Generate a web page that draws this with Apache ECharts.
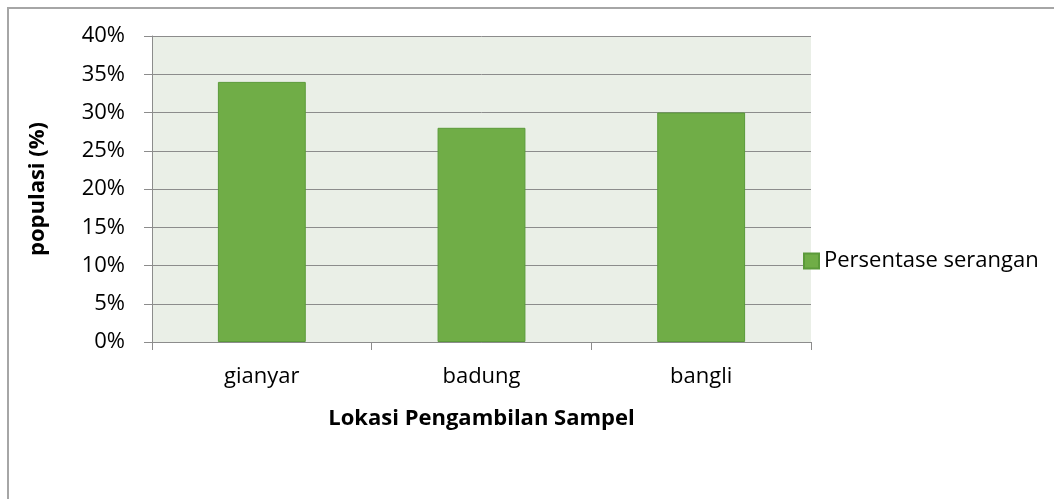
<!DOCTYPE html>
<html>
<head>
<meta charset="utf-8">
<title>Persentase serangan</title>
<script src="https://cdn.jsdelivr.net/npm/echarts@6/dist/echarts.min.js"></script>
<style>
  html, body {margin: 0; padding: 0; background: #fff;}
  #main {width: 1054px; height: 499px; position: relative;}
  .frame {position: absolute; left: 7px; top: 7px; width: 1045px; height: 500px;
          border-left: 2px solid #a6a6a6; border-top: 2px solid #a6a6a6; border-right: 2px solid #a6a6a6;}
</style>
</head>
<body>
<div class="frame"></div>
<div id="main"></div>
<script>
// data
var lokasi = ['gianyar', 'badung', 'bangli'];
var persentase = [34, 28, 30];
var yTicks = [0, 5, 10, 15, 20, 25, 30, 35, 40];

var font = '"Open Sans", sans-serif';
var chart = echarts.init(document.getElementById('main'));

chart.setOption({
  animation: false,
  textStyle: {fontFamily: font},
  grid: {left: 152, top: 36, right: 243, bottom: 157, containLabel: false},
  legend: {
    data: ['Persentase serangan'],
    orient: 'vertical',
    left: 798, top: 245,
    icon: 'rect', itemWidth: 15, itemHeight: 15, itemGap: 6,
    textStyle: {fontSize: 22, color: '#000', fontFamily: font}
  },
  xAxis: {
    type: 'category',
    data: lokasi,
    name: 'Lokasi Pengambilan Sampel',
    nameLocation: 'middle',
    nameGap: 66,
    nameTextStyle: {fontSize: 22, fontWeight: 'bold', color: '#000', fontFamily: font},
    axisLine: {lineStyle: {color: '#8c8c8c', width: 1}},
    axisTick: {show: true, length: 8, alignWithLabel: false, lineStyle: {color: '#8c8c8c'}},
    axisLabel: {fontSize: 22, color: '#000', margin: 24},
    splitArea: {show: false}
  },
  yAxis: {
    type: 'value',
    min: 0, max: 40, interval: 5,
    name: 'populasi (%)',
    nameLocation: 'middle',
    nameGap: 103,
    nameTextStyle: {fontSize: 22, fontWeight: 'bold', color: '#000', fontFamily: font},
    axisLine: {show: true, lineStyle: {color: '#8c8c8c', width: 1}},
    axisTick: {show: true, length: 8, lineStyle: {color: '#8c8c8c'}},
    axisLabel: {fontSize: 22, color: '#000', margin: 27, formatter: function (v) {
      return yTicks.indexOf(v) >= 0 ? v + '%' : '';
    }},
    splitLine: {show: true, lineStyle: {color: '#8c8c8c', width: 1}},
    splitArea: {show: true, areaStyle: {color: ['#eaefe7']}}
  },
  series: [{
    name: 'Persentase serangan',
    type: 'bar',
    data: persentase,
    barCategoryGap: '60%',
    itemStyle: {color: '#70ad47', borderColor: '#5b9a3a', borderWidth: 1}
  }]
});
</script>
</body>
</html>
